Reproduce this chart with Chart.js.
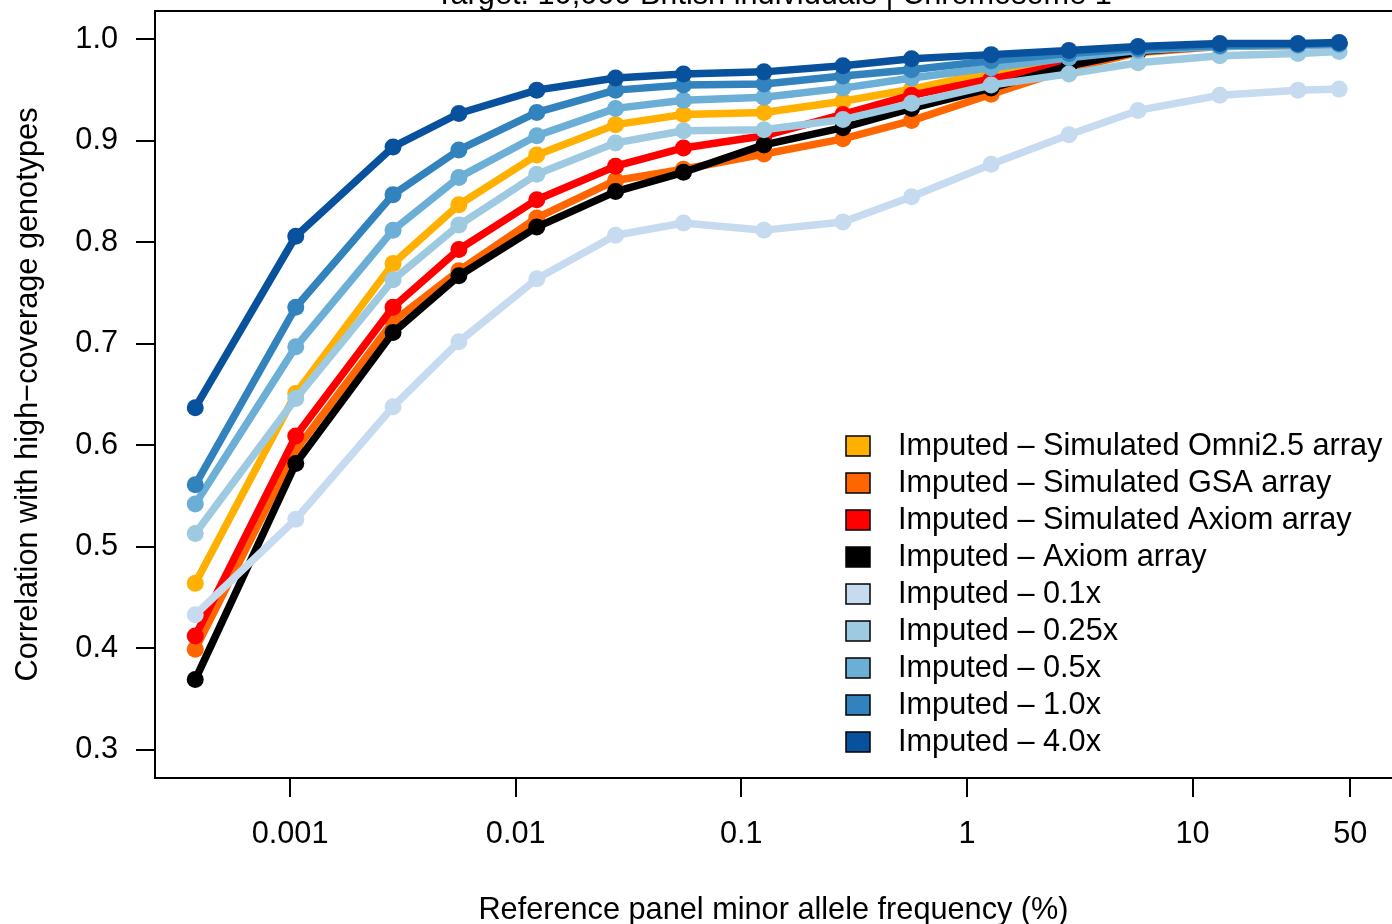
<!DOCTYPE html>
<html>
<head>
<meta charset="utf-8">
<script src="https://cdn.jsdelivr.net/npm/chart.js@4.4.0/dist/chart.umd.min.js"></script>
<style>
html,body{margin:0;padding:0;background:#fff;overflow:hidden}
#wrap{width:1392px;height:924px;position:relative}
</style>
</head>
<body>
<div id="wrap"><canvas id="c" width="1392" height="924"></canvas></div>
<script>
// minor allele frequency bins (%)
const maf = [0.00038, 0.00106, 0.00286, 0.0056, 0.0124, 0.0277, 0.0554, 0.126, 0.282, 0.568, 1.28, 2.83, 5.73, 13.2, 29.3, 44.6];

const xTicks = [0.001, 0.01, 0.1, 1, 10, 50];
const xTickLabels = ['0.001', '0.01', '0.1', '1', '10', '50'];
const yTicks = [0.3, 0.4, 0.5, 0.6, 0.7, 0.8, 0.9, 1.0];
const yTickLabels = ['0.3', '0.4', '0.5', '0.6', '0.7', '0.8', '0.9', '1.0'];

const seriesNames = [
  'Imputed \u2013 Simulated Omni2.5 array',
  'Imputed \u2013 Simulated GSA array',
  'Imputed \u2013 Simulated Axiom array',
  'Imputed \u2013 Axiom array',
  'Imputed \u2013 0.1x',
  'Imputed \u2013 0.25x',
  'Imputed \u2013 0.5x',
  'Imputed \u2013 1.0x',
  'Imputed \u2013 4.0x'
];
const seriesColors = ['#FFB000', '#FF6600', '#FF0000', '#000000', '#C6DBEF', '#9ECAE1', '#6BAED6', '#3182BD', '#08519C'];

const omni     = [0.464, 0.651, 0.779, 0.837, 0.886, 0.916, 0.926, 0.928, 0.939, 0.951, 0.968, 0.979, 0.990, 0.994, 0.995, 0.996];
const gsa      = [0.399, 0.595, 0.722, 0.772, 0.824, 0.861, 0.872, 0.887, 0.902, 0.920, 0.946, 0.971, 0.987, 0.993, 0.994, 0.995];
const simAxiom = [0.412, 0.609, 0.736, 0.793, 0.842, 0.875, 0.893, 0.905, 0.926, 0.945, 0.961, 0.976, 0.989, 0.994, 0.995, 0.996];
const axiom    = [0.369, 0.582, 0.711, 0.767, 0.815, 0.850, 0.869, 0.896, 0.913, 0.932, 0.952, 0.974, 0.988, 0.994, 0.995, 0.996];
const cov01    = [0.433, 0.527, 0.638, 0.702, 0.764, 0.807, 0.819, 0.812, 0.820, 0.845, 0.877, 0.906, 0.930, 0.945, 0.950, 0.951];
const cov025   = [0.513, 0.646, 0.763, 0.817, 0.867, 0.898, 0.910, 0.911, 0.921, 0.937, 0.955, 0.966, 0.977, 0.984, 0.986, 0.988];
const cov05    = [0.542, 0.697, 0.812, 0.864, 0.905, 0.932, 0.940, 0.943, 0.952, 0.962, 0.972, 0.982, 0.989, 0.993, 0.994, 0.995];
const cov10    = [0.561, 0.736, 0.847, 0.891, 0.928, 0.950, 0.955, 0.956, 0.964, 0.970, 0.979, 0.986, 0.991, 0.994, 0.995, 0.996];
const cov40    = [0.637, 0.806, 0.894, 0.927, 0.950, 0.962, 0.966, 0.968, 0.974, 0.981, 0.985, 0.989, 0.993, 0.996, 0.996, 0.997];

const allSeries = [omni, gsa, simAxiom, axiom, cov01, cov025, cov05, cov10, cov40];

const FONT = "'Liberation Sans', Arial, Helvetica, sans-serif";
const FS = 30.7;
const titleText = 'Target: 10,000 British individuals | Chromosome 1';

// drop the label overflow padding chart.js adds, so the box sits where R put it
function noPad(s) {
  s.paddingTop = 0; s.paddingBottom = 0; s.paddingLeft = 0; s.paddingRight = 0;
}

// top edge of the plot box + main title
const boxAndTitle = {
  id: 'boxAndTitle',
  afterDraw(chart) {
    const ctx = chart.ctx, a = chart.chartArea;
    ctx.save();
    ctx.strokeStyle = '#000';
    ctx.lineWidth = 2;
    ctx.beginPath();
    ctx.moveTo(a.left - 1, a.top);
    ctx.lineTo(a.right + 2, a.top);
    ctx.stroke();
    ctx.fillStyle = '#000';
    ctx.font = FS + 'px ' + FONT;
    ctx.textAlign = 'center';
    ctx.textBaseline = 'alphabetic';
    ctx.fillText(titleText, (a.left + a.right) / 2, 4);
    ctx.restore();
  }
};

// legend without frame, filled boxes like R legend(fill=)
const boxLegend = {
  id: 'boxLegend',
  afterDraw(chart) {
    const ctx = chart.ctx;
    ctx.save();
    ctx.font = FS + 'px ' + FONT;
    ctx.textAlign = 'left';
    ctx.textBaseline = 'middle';
    seriesNames.forEach((name, i) => {
      const y = 446 + 37 * i;
      ctx.fillStyle = seriesColors[i];
      ctx.fillRect(846, y - 10, 24, 20);
      ctx.strokeStyle = '#000';
      ctx.lineWidth = 1.5;
      ctx.strokeRect(846, y - 10, 24, 20);
      ctx.fillStyle = '#000';
      ctx.fillText(name, 898, y + 1);
    });
    ctx.restore();
  }
};

const datasets = allSeries.map((arr, i) => ({
  label: seriesNames[i],
  data: maf.map((x, j) => ({ x: x, y: arr[j] })),
  borderColor: seriesColors[i],
  backgroundColor: seriesColors[i],
  pointBackgroundColor: seriesColors[i],
  pointBorderWidth: 0,
  pointRadius: 8.5,
  borderWidth: 7.5,
  borderCapStyle: 'round',
  borderJoinStyle: 'round',
  tension: 0,
  fill: false,
  order: allSeries.length - 1 - i
}));

new Chart(document.getElementById('c').getContext('2d'), {
  type: 'line',
  data: { datasets },
  options: {
    responsive: false,
    devicePixelRatio: 1,
    animation: false,
    events: [],
    layout: { autoPadding: false, padding: { top: 11, left: 0, right: 0, bottom: 0 } },
    plugins: { legend: { display: false }, tooltip: { enabled: false } },
    scales: {
      x: {
        type: 'logarithmic',
        min: 0.000252,
        max: 76.5,
        afterBuildTicks: s => { s.ticks = xTicks.map(v => ({ value: v })); },
        afterFit: s => { s.height = 146; noPad(s); },
        grid: { drawOnChartArea: false, drawTicks: true, tickLength: 19, color: '#000', lineWidth: 2 },
        border: { display: true, color: '#000', width: 2 },
        ticks: {
          color: '#000', font: { family: FONT, size: FS }, padding: 19,
          maxRotation: 0, autoSkip: false,
          callback: v => xTickLabels[xTicks.indexOf(v)]
        },
        title: {
          display: true, text: 'Reference panel minor allele frequency (%)',
          color: '#000', font: { family: FONT, size: FS }, padding: { top: 0, bottom: -5 }
        }
      },
      y: {
        type: 'linear',
        min: 0.272,
        max: 1.028,
        afterBuildTicks: s => { s.ticks = yTicks.map(v => ({ value: v })); },
        afterFit: s => { s.width = 155; noPad(s); },
        grid: { drawOnChartArea: false, drawTicks: true, tickLength: 19, color: '#000', lineWidth: 2 },
        border: { display: true, color: '#000', width: 2 },
        ticks: {
          color: '#000', font: { family: FONT, size: FS }, padding: 18,
          callback: v => yTickLabels[yTicks.findIndex(t => Math.abs(t - v) < 1e-9)]
        },
        title: {
          display: true, text: 'Correlation with high\u2212coverage genotypes',
          color: '#000', font: { family: FONT, size: FS }, padding: { top: 10, bottom: 0 }
        }
      }
    }
  },
  plugins: [boxAndTitle, boxLegend]
});
</script>
</body>
</html>
